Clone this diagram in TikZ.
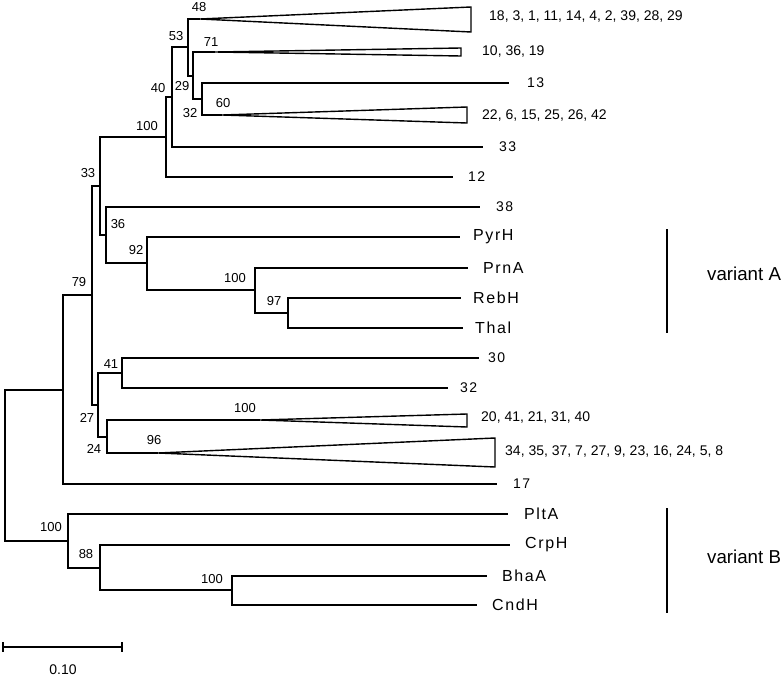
\documentclass[tikz,border=0pt]{standalone}
\usepackage{fontspec}
\setmainfont{Liberation Sans}
\newfontfamily\spacedfont[LetterSpace=10]{Liberation Sans}
\usepackage{tikz}
\usetikzlibrary{positioning,calc}

\tikzset{
  branch/.style={line width=1.4pt, line join=miter},
  clade/.style={draw, line width=1.4pt, line join=miter, fill=white},
  boot/.style={font=\fontsize{13}{13}\selectfont, inner sep=0pt},
  members/.style={font=\fontsize{14}{14}\selectfont, inner sep=0pt, anchor=west},
  num/.style={font=\spacedfont\fontsize{14}{14}\selectfont, inner sep=0pt, anchor=west},
  taxon/.style={font=\spacedfont\fontsize{16}{16}\selectfont, inner sep=0pt, anchor=west},
  variant/.style={font=\fontsize{18.7}{19}\selectfont, inner sep=0pt, anchor=west}
}

\begin{document}
\begin{tikzpicture}[x=1pt, y=-1pt]
    \useasboundingbox (0,0) rectangle (784,677);

    % internal nodes
    \coordinate (root)  at (5,465);
    \coordinate (nA)    at (63,390);
    \coordinate (n79)   at (92,295);
    \coordinate (n33)   at (100,186);
    \coordinate (n100a) at (166,137);
    \coordinate (n40)   at (172,97);
    \coordinate (n53)   at (188,47);
    \coordinate (n29)   at (193,76);
    \coordinate (n32)   at (202,99);
    \coordinate (n36)   at (106,235);
    \coordinate (n92)   at (147,263);
    \coordinate (n100b) at (255,290);
    \coordinate (n97)   at (288,313);
    \coordinate (n27)   at (98,405);
    \coordinate (n41)   at (122,373);
    \coordinate (n24)   at (107,437);
    \coordinate (n100c) at (68,541);
    \coordinate (n88)   at (100,568);
    \coordinate (n100d) at (232,590);

    % collapsed clades: apex, top and bottom corners
    \coordinate (tA) at (200,19);  \coordinate (tAt) at (471,7);   \coordinate (tAb) at (471,32);
    \coordinate (tB) at (215,52);  \coordinate (tBt) at (461,48);  \coordinate (tBb) at (461,56);
    \coordinate (tC) at (222,115); \coordinate (tCt) at (467,107); \coordinate (tCb) at (467,123);
    \coordinate (tD) at (260,420); \coordinate (tDt) at (467,414); \coordinate (tDb) at (467,427);
    \coordinate (tE) at (158,453); \coordinate (tEt) at (495,438); \coordinate (tEb) at (495,467);

    \foreach \a/\b in {root/nA, root/n100c, nA/n79, n79/n33, n79/n27, n33/n100a, n33/n36,
                       n100a/n40, n40/n53, n53/tA, n53/n29, n29/tB, n29/n32, n32/tC,
                       n36/n92, n92/n100b, n100b/n97, n27/n41, n27/n24, n24/tD, n24/tE,
                       n100c/n88, n88/n100d}
      \draw[branch] (\a) |- (\b);

    \foreach \t in {tA, tB, tC, tD, tE}
      \draw[clade] (\t) -- (\t t) -- (\t b) -- cycle;

    \node[members] (mA) at (489,17)  {18, 3, 1, 11, 14, 4, 2, 39, 28, 29};
    \node[members] (mB) at (482,52)  {10, 36, 19};
    \node[members] (mC) at (482,116) {22, 6, 15, 25, 26, 42};
    \node[members] (mD) at (481,418) {20, 41, 21, 31, 40};
    \node[members] (mE) at (505,452) {34, 35, 37, 7, 27, 9, 23, 16, 24, 5, 8};

    % single sequences: parent / name / y / branch end / label x
    \foreach \p/\n/\y/\xe/\xl in {n32/13/83/509/527, n40/33/147/483/499, n100a/12/177/453/468,
                                  n36/38/207/480/496, n41/30/358/479/488, n41/32/388/448/460,
                                  nA/17/484/497/513} {
      \coordinate (e\n) at (\xe,\y);
      \node[num] (l\n) at (\xl,\y) {\n};
      \draw[branch] (\p) |- (e\n);
    }
    \foreach \p/\n/\y/\xe/\xl in {n92/PyrH/237/460/473, n100b/PrnA/268/468/483,
                                  n97/RebH/298/461/473, n97/Thal/328/463/475,
                                  n100c/PltA/514/508/524, n88/CrpH/545/510/525,
                                  n100d/BhaA/576/487/502, n100d/CndH/605/477/492} {
      \coordinate (e\n) at (\xe,\y);
      \node[taxon] (l\n) at (\xl,\y) {\n};
      \draw[branch] (\p) |- (e\n);
    }

    % bootstrap values
    \foreach \v/\x/\y [count=\i] in {48/199/7, 53/176/36, 71/211/42, 40/158/88, 29/182/86,
                                     32/190/113, 60/223/103, 100/147/126, 33/88/173, 36/118/224,
                                     92/136/250, 100/235/278, 97/274/301, 79/79/282, 41/111/364,
                                     27/87/418, 100/245/408, 96/154/440, 24/94/449, 100/51/527,
                                     88/86/554, 100/212/579}
      \node[boot] (b\i) at (\x,\y) {\v};

    % variant brackets
    \coordinate (vAt) at (667,229); \coordinate (vAb) at (667,333);
    \coordinate (vBt) at (667,508); \coordinate (vBb) at (667,613);
    \draw[branch] (vAt) -- (vAb);
    \draw[branch] (vBt) -- (vBb);
    \node[variant] (varA) at (707,274) {variant A};
    \node[variant] (varB) at (707,557) {variant B};

    % scale bar
    \coordinate (s0) at (3,647);
    \coordinate (s1) at (122,647);
    \draw[branch] (s0) -- (s1);
    \draw[branch] ($(s0)+(0,-5)$) -- ($(s0)+(0,5)$);
    \draw[branch] ($(s1)+(0,-5)$) -- ($(s1)+(0,5)$);
    \node[boot, font=\fontsize{14}{14}\selectfont] (sc) at (63,670) {0.10};
\end{tikzpicture}
\end{document}
